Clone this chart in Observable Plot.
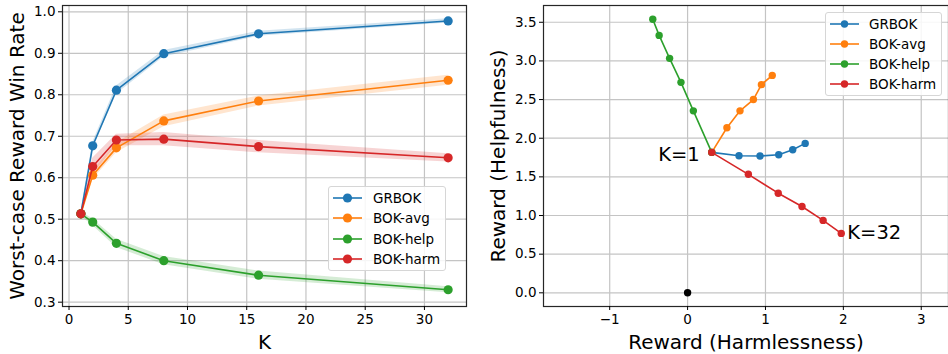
<!DOCTYPE html>
<html>
<head>
<meta charset="utf-8">
<script src="https://cdn.jsdelivr.net/npm/d3@7"></script>
<script src="https://cdn.jsdelivr.net/npm/@observablehq/plot@0.6"></script>
<style>
  html, body { margin: 0; padding: 0; background: #fff; }
  #fig { position: relative; width: 948px; height: 354px; font-family: "DejaVu Sans", sans-serif; color: #000; overflow: hidden; }
  #fig svg.panel { position: absolute; top: 0; overflow: visible; }
  #fig svg g[aria-label$="axis label"] text { font-size: 20px; }
  .legend { position: absolute; background: rgba(255,255,255,0.85); border: 1px solid #d6d6d6; border-radius: 3px; box-sizing: border-box; }
  .legend .row { display: flex; align-items: center; white-space: nowrap; }
  .legend .row svg { display: block; flex: none; }
</style>
</head>
<body>
<div id="fig"></div>
<script>
// ---------- data ----------
const series = ["GRBOK", "BOK-avg", "BOK-help", "BOK-harm"];
const colors = ["#1f77b4", "#ff7f0e", "#2ca02c", "#d62728"];

// left panel: worst-case reward win rate vs K
const K = [1, 2, 4, 8, 16, 32];
const grbokWin = [0.513, 0.677, 0.811, 0.899, 0.947, 0.978];
const avgWin   = [0.513, 0.606, 0.672, 0.737, 0.785, 0.835];
const helpWin  = [0.513, 0.493, 0.442, 0.400, 0.365, 0.330];
const harmWin  = [0.513, 0.627, 0.691, 0.693, 0.675, 0.648];
// half-width of the shaded band
const grbokErr = [0.005, 0.008, 0.010, 0.008, 0.006, 0.005];
const avgErr   = [0.005, 0.010, 0.012, 0.014, 0.012, 0.012];
const helpErr  = [0.005, 0.008, 0.010, 0.010, 0.010, 0.007];
const harmErr  = [0.005, 0.020, 0.014, 0.016, 0.015, 0.010];

const xTicksLeft = [0, 5, 10, 15, 20, 25, 30];
const yTicksLeft = [0.3, 0.4, 0.5, 0.6, 0.7, 0.8, 0.9, 1.0];

// right panel: reward (harmlessness) vs reward (helpfulness), K = 1..32
const grbokHarmless = [0.31, 0.66, 0.93, 1.17, 1.35, 1.51];
const grbokHelpful  = [1.817, 1.774, 1.770, 1.787, 1.850, 1.933];
const avgHarmless   = [0.31, 0.505, 0.673, 0.845, 0.948, 1.087];
const avgHelpful    = [1.817, 2.135, 2.354, 2.500, 2.693, 2.813];
const helpHarmless  = [0.31, 0.074, -0.085, -0.231, -0.365, -0.447];
const helpHelpful   = [1.817, 2.354, 2.723, 3.033, 3.330, 3.540];
const harmHarmless  = [0.31, 0.780, 1.164, 1.469, 1.740, 1.973];
const harmHelpful   = [1.817, 1.533, 1.289, 1.117, 0.937, 0.769];
const originPoint = [{x: 0, y: 0}];

const xTicksRight = [-1, 0, 1, 2, 3];
const yTicksRight = [0, 0.5, 1.0, 1.5, 2.0, 2.5, 3.0, 3.5];

// ---------- build tables ----------
const winVals = [grbokWin, avgWin, helpWin, harmWin];
const winErrs = [grbokErr, avgErr, helpErr, harmErr];
const winData = series.map((s, i) => K.map((k, j) => ({
  series: s, K: k, v: winVals[i][j], lo: winVals[i][j] - winErrs[i][j], hi: winVals[i][j] + winErrs[i][j]
})));

const hx = [grbokHarmless, avgHarmless, helpHarmless, harmHarmless];
const hy = [grbokHelpful, avgHelpful, helpHelpful, harmHelpful];
const rewardData = series.map((s, i) => K.map((k, j) => ({series: s, K: k, x: hx[i][j], y: hy[i][j]})));

const gridStyle = {stroke: "#c4c4c4", strokeOpacity: 1, strokeWidth: 1.2};

// ---------- left plot ----------
const leftMarks = [
  Plot.gridX(xTicksLeft, gridStyle),
  Plot.gridY(yTicksLeft, gridStyle),
];
winData.forEach((d, i) => {
  leftMarks.push(Plot.areaY(d, {x: "K", y1: "lo", y2: "hi", fill: colors[i], fillOpacity: 0.2}));
});
winData.forEach((d, i) => {
  leftMarks.push(Plot.line(d, {x: "K", y: "v", stroke: colors[i], strokeWidth: 1.6}));
  leftMarks.push(Plot.dot(d, {x: "K", y: "v", fill: colors[i], r: 4.6}));
});
leftMarks.push(Plot.frame({stroke: "#262626", strokeWidth: 1.2}));
leftMarks.push(Plot.axisX(xTicksLeft, {tickSize: 4, tickPadding: 4, fontSize: 13.5, label: "K", labelAnchor: "center", labelOffset: 42, labelArrow: "none"}));
leftMarks.push(Plot.axisY(yTicksLeft, {tickSize: 4, tickPadding: 3, fontSize: 13.5, tickFormat: d3.format(".1f"), label: "Worst-case Reward Win Rate", labelAnchor: "center", labelOffset: 53, labelArrow: "none"}));

const left = Plot.plot({
  width: 474, height: 354,
  marginLeft: 62, marginRight: 8, marginTop: 5, marginBottom: 48,
  style: {fontFamily: "DejaVu Sans, sans-serif", fontSize: "13.5px", color: "#000", background: "transparent"},
  x: {domain: [-0.55, 33.55]},
  y: {domain: [0.2896, 1.0152]},
  marks: leftMarks
});
left.classList.add("panel");
left.style.left = "0px";

// ---------- right plot ----------
const rightMarks = [
  Plot.gridX(xTicksRight, gridStyle),
  Plot.gridY(yTicksRight, gridStyle),
];
rewardData.forEach((d, i) => {
  rightMarks.push(Plot.line(d, {x: "x", y: "y", stroke: colors[i], strokeWidth: 1.6}));
  rightMarks.push(Plot.dot(d, {x: "x", y: "y", fill: colors[i], r: 3.7}));
});
rightMarks.push(Plot.dot(originPoint, {x: "x", y: "y", fill: "#000", r: 3.7}));
rightMarks.push(Plot.text(rewardData[3].filter(d => d.K === 1), {x: "x", y: "y", text: () => "K=1", textAnchor: "end", dx: -12, dy: 2, fontSize: 19.5}));
rightMarks.push(Plot.text(rewardData[3].filter(d => d.K === 32), {x: "x", y: "y", text: () => "K=32", textAnchor: "start", dx: 6, dy: -1, fontSize: 19.5}));
rightMarks.push(Plot.frame({stroke: "#262626", strokeWidth: 1.2}));
rightMarks.push(Plot.axisX(xTicksRight, {tickSize: 4, tickPadding: 4, fontSize: 13.5, label: "Reward (Harmlessness)", labelAnchor: "center", labelOffset: 42, labelArrow: "none"}));
rightMarks.push(Plot.axisY(yTicksRight, {tickSize: 4, tickPadding: 3, fontSize: 13.5, tickFormat: d3.format(".1f"), label: "Reward (Helpfulness)", labelAnchor: "center", labelOffset: 53, labelArrow: "none"}));

const right = Plot.plot({
  width: 474, height: 354,
  marginLeft: 69, marginRight: 0, marginTop: 5, marginBottom: 48,
  style: {fontFamily: "DejaVu Sans, sans-serif", fontSize: "13.5px", color: "#000", background: "transparent"},
  x: {domain: [-1.85, 3.35]},
  y: {domain: [-0.177, 3.717]},
  marks: rightMarks
});
right.classList.add("panel");
right.style.left = "474px";

const fig = document.getElementById("fig");
fig.appendChild(left);
fig.appendChild(right);

// ---------- legends ----------
function legend(left, top, width, height, rowH, r, fontSize, lineW, gap) {
  const box = document.createElement("div");
  box.className = "legend";
  Object.assign(box.style, {left: left + "px", top: top + "px", width: width + "px", height: height + "px", paddingTop: "1px", paddingLeft: "4px"});
  series.forEach((s, i) => {
    const row = document.createElement("div");
    row.className = "row";
    row.style.height = rowH + "px";
    row.style.fontSize = fontSize + "px";
    row.innerHTML = `<svg width="${lineW}" height="12" style="margin-right:${gap}px"><line x1="0" x2="${lineW}" y1="6" y2="6" stroke="${colors[i]}" stroke-width="1.6"/><circle cx="${lineW/2}" cy="6" r="${r}" fill="${colors[i]}"/></svg><span>${s}</span>`;
    box.appendChild(row);
  });
  fig.appendChild(box);
}
legend(328, 186, 118, 85, 20.3, 4.6, 13.5, 29, 11);
legend(825, 12, 117, 84, 20, 3.7, 13.5, 29, 10);
</script>
</body>
</html>
